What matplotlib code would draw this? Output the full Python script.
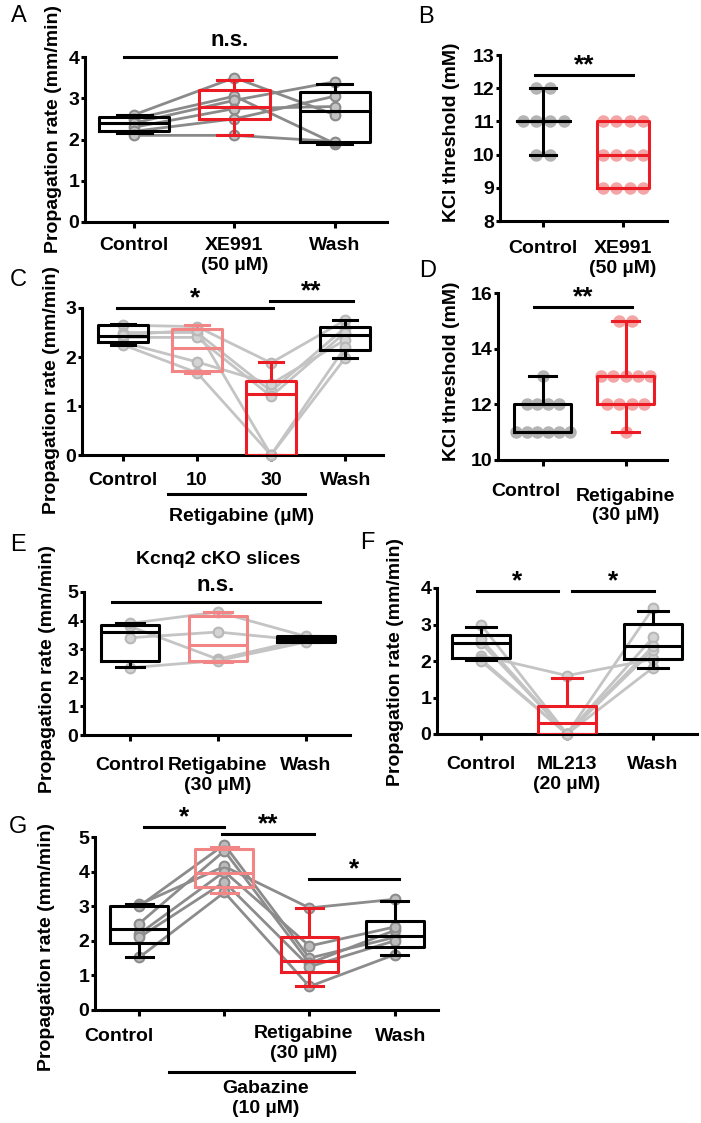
import matplotlib.pyplot as plt
from collections import Counter

plt.rcParams['font.family'] = ['Liberation Sans', 'DejaVu Sans']
plt.rcParams['font.weight'] = 'bold'
plt.rcParams['font.size'] = 14

W, H = 701, 1123
BLACK = 'black'
RED = '#ec1c24'
PINK = '#f28585'

# A: XE991, paired slices
a_control = [2.6, 2.5, 2.4, 2.3, 2.2, 2.1]
a_xe991 = [3.5, 3.05, 2.95, 2.75, 2.5, 2.1]
a_wash = [2.6, 1.9, 3.4, 2.8, 3.05, 1.95]
a_q1 = [2.2, 2.5, 1.93]
a_med = [2.4, 2.8, 2.7]
a_q3 = [2.55, 3.2, 3.15]
a_lo = [2.15, 2.1, 1.9]
a_hi = [2.6, 3.45, 3.35]

# B: KCl threshold, XE991
b_control = [12, 12, 11, 11, 11, 11, 10, 10]
b_xe991 = [11, 11, 11, 11, 10, 10, 10, 10, 9, 9, 9, 9]
b_q1 = [11, 9]
b_med = [11, 10]
b_q3 = [11, 11]
b_lo = [10, 9]
b_hi = [12, 11]

# C: retigabine 10 / 30 uM
c_control = [2.65, 2.5, 2.4, 2.3, 2.25, 2.45]
c_ret10 = [2.62, 2.5, 2.4, 1.9, 1.68, 2.55]
c_ret30 = [1.88, 1.3, 1.2, 1.45, 0, 0]
c_wash = [2.75, 2.6, 2.5, 2.35, 2.2, 1.98]
c_q1 = [2.3, 1.72, 0, 2.15]
c_med = [2.42, 2.18, 1.25, 2.45]
c_q3 = [2.65, 2.58, 1.52, 2.62]
c_lo = [2.25, 1.68, 0, 1.98]
c_hi = [2.68, 2.65, 1.9, 2.75]

# D: KCl threshold, retigabine
d_control = [13, 12, 12, 12, 12, 11, 11, 11, 11, 11, 11]
d_ret = [15, 15, 13, 13, 13, 13, 13, 12, 12, 12, 12, 11]
d_q1 = [11, 12]
d_med = [11, 13]
d_q3 = [12, 13]
d_lo = [11, 11]
d_hi = [13, 15]

# E: Kcnq2 cKO slices
e_control = [3.8, 3.4, 2.35, 3.9]
e_ret = [2.65, 3.6, 2.6, 4.3]
e_wash = [3.35, 3.3, 3.25, 3.45]
e_q1 = [2.6, 2.6, 3.25]
e_med = [3.6, 3.15, 3.35]
e_q3 = [3.85, 4.15, 3.45]
e_lo = [2.38, 2.55, 3.25]
e_hi = [3.9, 4.3, 3.45]

# F: ML213
f_control = [3.0, 2.5, 2.15, 2.05, 2.0, 2.6]
f_ml213 = [0, 0, 1.6, 0, 0, 0]
f_wash = [3.45, 2.65, 2.05, 2.3, 1.82, 2.4]
f_q1 = [2.07, 0, 2.05]
f_med = [2.5, 0.3, 2.42]
f_q3 = [2.72, 0.78, 3.02]
f_lo = [2.02, 0, 1.82]
f_hi = [2.93, 1.53, 3.38]

# G: gabazine then retigabine
g_control = [3.05, 3.0, 2.5, 2.2, 2.1, 1.52]
g_gabazine = [4.15, 4.78, 4.6, 4.0, 3.7, 3.4]
g_ret = [2.95, 1.5, 1.35, 1.85, 1.25, 0.68]
g_wash = [3.2, 2.1, 2.3, 2.4, 2.0, 1.6]
g_q1 = [1.95, 3.55, 1.1, 1.82]
g_med = [2.35, 3.95, 1.42, 2.15]
g_q3 = [3.0, 4.65, 2.12, 2.58]
g_lo = [1.52, 3.38, 0.68, 1.6]
g_hi = [3.05, 4.72, 2.95, 3.15]

fig = plt.figure(figsize=(W / 100, H / 100), dpi=100)


def ftext(x, y, s, **kw):
    fig.text(x / W, 1 - y / H, s, **kw)


def make_ax(x0, x1, ytop, ybot, xlim, ylim, yticks, xpad=4):
    ax = fig.add_axes([x0 / W, 1 - ybot / H, (x1 - x0) / W, (ybot - ytop) / H])
    ax.set_xlim(xlim)
    ax.set_ylim(ylim)
    for s in ['top', 'right']:
        ax.spines[s].set_visible(False)
    for s in ['left', 'bottom']:
        ax.spines[s].set_linewidth(2.2)
    ax.tick_params(axis='x', width=2.2, length=4, pad=xpad)
    ax.tick_params(axis='y', width=2.2, length=3, pad=1)
    ax.set_yticks(yticks)
    return ax


def boxes(ax, q1, med, q3, lo, hi, colors, width=0.68, capw=0.32):
    for i in range(len(q1)):
        st = [dict(q1=q1[i], med=med[i], q3=q3[i], whislo=lo[i], whishi=hi[i], fliers=[])]
        c = colors[i]
        pr = dict(color=c, lw=2.2)
        ax.bxp(st, positions=[i + 1], widths=width, capwidths=capw, showfliers=False,
               boxprops=pr, medianprops=pr, whiskerprops=pr, capprops=pr,
               manage_ticks=False, zorder=3)


def subjects(ax, groups, lc, mfc, mec):
    for row in zip(*groups):
        ax.plot(range(1, len(row) + 1), row, color=lc, lw=2, marker='o', ms=7,
                mfc=mfc, mec=mec, mew=1.5, zorder=2, clip_on=False)


def swarm(ax, pos, vals, color, step=0.17):
    counts = Counter(vals)
    seen = {}
    xs = []
    for v in vals:
        k = seen.get(v, 0)
        seen[v] = k + 1
        xs.append(pos + (k - (counts[v] - 1) / 2) * step)
    ax.plot(xs, vals, 'o', ms=8, color=color, zorder=2, clip_on=False)


def sig(ax, x1, x2, y, s, off=2, size=19):
    ax.plot([x1, x2], [y, y], color='black', lw=2.2, clip_on=False)
    ax.annotate(s, ((x1 + x2) / 2, y), xytext=(0, off), textcoords='offset points',
                ha='center', va='baseline', fontsize=size, annotation_clip=False)


YL = 'Propagation rate (mm/min)'

# ---- A
ax = make_ax(85, 387, 57, 222, (0.51, 3.52), (0, 4), [0, 1, 2, 3, 4], xpad=7)
subjects(ax, [a_control, a_xe991, a_wash], '#8a8a8a', '#c4c4c4', '#8a8a8a')
boxes(ax, a_q1, a_med, a_q3, a_lo, a_hi, [BLACK, RED, BLACK], width=0.7, capw=0.35)
ax.set_xticks([1, 2, 3], ['Control', 'XE991\n(50 µM)', 'Wash'])
sig(ax, 0.9, 3.01, 4.0, 'n.s.', off=8, size=16)

# ---- B
ax = make_ax(500, 667, 55, 221, (0.46, 2.55), (8, 13), [8, 9, 10, 11, 12, 13], xpad=10)
swarm(ax, 1, b_control, '#b4b4b4')
swarm(ax, 2, b_xe991, '#f4a6a6')
boxes(ax, b_q1, b_med, b_q3, b_lo, b_hi, [BLACK, RED], width=0.66)
ax.set_xticks([1, 2], ['Control', 'XE991\n(50 µM)'])
sig(ax, 0.9, 2.12, 12.4, '**')

# ---- C
ax = make_ax(82, 383, 308, 455, (0.45, 4.51), (0, 3), [0, 1, 2, 3], xpad=8)
subjects(ax, [c_control, c_ret10, c_ret30, c_wash], '#c4c4c4', '#d4d4d4', '#b8b8b8')
boxes(ax, c_q1, c_med, c_q3, c_lo, c_hi, [BLACK, PINK, RED, BLACK])
ax.set_xticks([1, 2, 3, 4], ['Control', '10', '30', 'Wash'])
sig(ax, 0.92, 3.03, 3.0, '*')
sig(ax, 2.99, 4.1, 3.14, '**')
tr = ax.get_xaxis_transform()
ax.plot([1.61, 3.46], [-0.265, -0.265], color='black', lw=2.2, transform=tr, clip_on=False)
ax.text(2.6, -0.42, 'Retigabine (µM)', transform=tr, ha='center', va='center')

# ---- D
ax = make_ax(498, 667, 293, 460, (0.46, 2.5), (10, 16), [10, 12, 14, 16])
swarm(ax, 1, d_control, '#b4b4b4', step=0.13)
swarm(ax, 2, d_ret, '#f4a6a6', step=0.15)
boxes(ax, d_q1, d_med, d_q3, d_lo, d_hi, [BLACK, RED], width=0.69)
ax.set_xticks([1, 2], ['', ''])
tr = ax.get_xaxis_transform()
ax.text(0.8, -0.19, 'Control', transform=tr, ha='center', va='center')
ax.text(2.0, -0.275, 'Retigabine\n(30 µM)', transform=tr, ha='center', va='center')
sig(ax, 0.89, 2.08, 15.5, '**')

# ---- E
ax = make_ax(84, 350, 592, 735, (0.48, 3.5), (0, 5), [0, 1, 2, 3, 4, 5], xpad=12)
subjects(ax, [e_control, e_ret, e_wash], '#c4c4c4', '#d4d4d4', '#b8b8b8')
boxes(ax, e_q1, e_med, e_q3, e_lo, e_hi, [BLACK, PINK, BLACK], width=0.66)
ax.set_xticks([1, 2, 3], ['Control', 'Retigabine\n(30 µM)', 'Wash'])
sig(ax, 0.8, 3.16, 4.65, 'n.s.', off=8, size=16)
ax.text(2.0, 5.0 + 32 / 28.6, 'Kcnq2 cKO slices', ha='center', va='center')

# ---- F
ax = make_ax(437, 697, 588, 734, (0.49, 3.51), (0, 4), [0, 1, 2, 3, 4], xpad=12)
subjects(ax, [f_control, f_ml213, f_wash], '#c4c4c4', '#d4d4d4', '#b8b8b8')
boxes(ax, f_q1, f_med, f_q3, f_lo, f_hi, [BLACK, RED, BLACK], capw=0.35)
ax.set_xticks([1, 2, 3], ['Control', 'ML213\n(20 µM)', 'Wash'])
sig(ax, 0.95, 1.9, 3.92, '*')
sig(ax, 2.06, 3.01, 3.92, '*')

# ---- G
ax = make_ax(95, 438, 837, 1010, (0.48, 4.51), (0, 5), [0, 1, 2, 3, 4, 5])
subjects(ax, [g_control, g_gabazine, g_ret, g_wash], '#8c8c8c', '#bcbcbc', '#8c8c8c')
boxes(ax, g_q1, g_med, g_q3, g_lo, g_hi, [BLACK, PINK, RED, BLACK])
ax.set_xticks([1, 2, 3, 4], ['', '', '', ''])
sig(ax, 1.05, 2.0, 5.29, '*')
sig(ax, 1.97, 3.05, 5.09, '**')
sig(ax, 2.99, 4.05, 3.79, '*')
tr = ax.get_xaxis_transform()
ax.text(0.76, -0.156, 'Control', transform=tr, ha='center', va='center')
ax.text(2.93, -0.194, 'Retigabine\n(30 µM)', transform=tr, ha='center', va='center')
ax.text(4.07, -0.156, 'Wash', transform=tr, ha='center', va='center')
ax.plot([1.35, 3.52], [-0.358, -0.358], color='black', lw=2.2, transform=tr, clip_on=False)
ax.text(2.48, -0.51, 'Gabazine\n(10 µM)', transform=tr, ha='center', va='center')

# y labels and panel letters
ftext(53, 129, YL, rotation=90, ha='center', va='center')
ftext(452, 132, 'KCl threshold (mM)', rotation=90, ha='center', va='center')
ftext(52, 390, YL, rotation=90, ha='center', va='center')
ftext(452, 371, 'KCl threshold (mM)', rotation=90, ha='center', va='center')
ftext(48, 669, YL, rotation=90, ha='center', va='center')
ftext(395, 662, YL, rotation=90, ha='center', va='center')
ftext(47, 947, YL, rotation=90, ha='center', va='center')

for letter, x, y in [('A', 19, 16), ('B', 426, 17), ('C', 18, 280), ('D', 428, 271),
                     ('E', 18, 545), ('F', 367, 543), ('G', 18, 827)]:
    ftext(x, y, letter, ha='center', va='center', fontsize=17, fontweight='normal')

fig.savefig('out.png', dpi=100)
